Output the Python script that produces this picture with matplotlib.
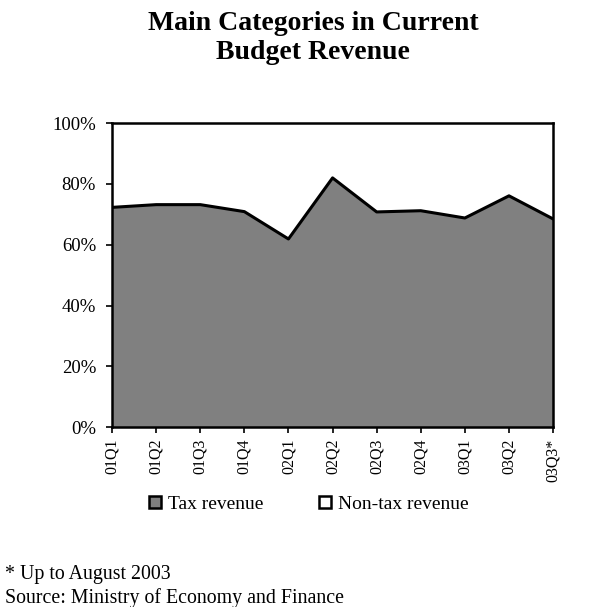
import numpy as np
import matplotlib.pyplot as plt
from matplotlib.lines import Line2D

plt.rcParams['font.family'] = ['Liberation Serif', 'DejaVu Serif']

quarters = ['01Q1', '01Q2', '01Q3', '01Q4', '02Q1', '02Q2', '02Q3', '02Q4',
            '03Q1', '03Q2', '03Q3*']
tax = np.array([72.3, 73.2, 73.2, 70.9, 61.9, 82.0, 70.8, 71.2, 68.8, 76.1, 68.5])
non_tax = 100 - tax

fig = plt.figure(figsize=(5.96, 6.07), dpi=100)
ax = fig.add_axes([0.188, 0.2965, 0.74, 0.5005])

x = np.arange(len(quarters))
ax.fill_between(x, 0, tax, color='#808080', linewidth=0)
ax.fill_between(x, tax, tax + non_tax, color='white', linewidth=0)
ax.plot(x, tax, color='black', linewidth=2.2)

ax.set_xlim(0, len(quarters) - 1)
ax.set_ylim(0, 100)
ax.set_yticks([0, 20, 40, 60, 80, 100])
ax.set_yticklabels(['0%', '20%', '40%', '60%', '80%', '100%'], fontsize=13.5)
ax.set_xticks(x)
ax.set_xticklabels(quarters, rotation=90, fontsize=11.5)
ax.tick_params(direction='out', length=4.5, width=1.2, color='black')
ax.tick_params(axis='y', pad=7)
ax.tick_params(axis='x', pad=4)
for s in ax.spines.values():
    s.set_linewidth(1.8)
    s.set_color('black')

fig.text(0.525, 0.937, 'Main Categories in Current\nBudget Revenue', ha='center',
         va='center', fontsize=20, fontweight='bold', linespacing=1.22)

handles = [
    Line2D([], [], marker='s', linestyle='none', markersize=9,
           markerfacecolor='#808080', markeredgecolor='black', markeredgewidth=1.8),
    Line2D([], [], marker='s', linestyle='none', markersize=9,
           markerfacecolor='white', markeredgecolor='black', markeredgewidth=1.8),
]
fig.legend(handles, ['Tax revenue', 'Non-tax revenue'], loc='center',
           bbox_to_anchor=(0.515, 0.170), ncol=2, frameon=False, fontsize=14,
           handletextpad=0.15, columnspacing=2.7, handlelength=1.0)

fig.text(0.008, 0.053, '* Up to August 2003', fontsize=14.3, va='center')
fig.text(0.008, 0.015, 'Source: Ministry of Economy and Finance', fontsize=14.3, va='center')

fig.savefig('out.png', dpi=100)
